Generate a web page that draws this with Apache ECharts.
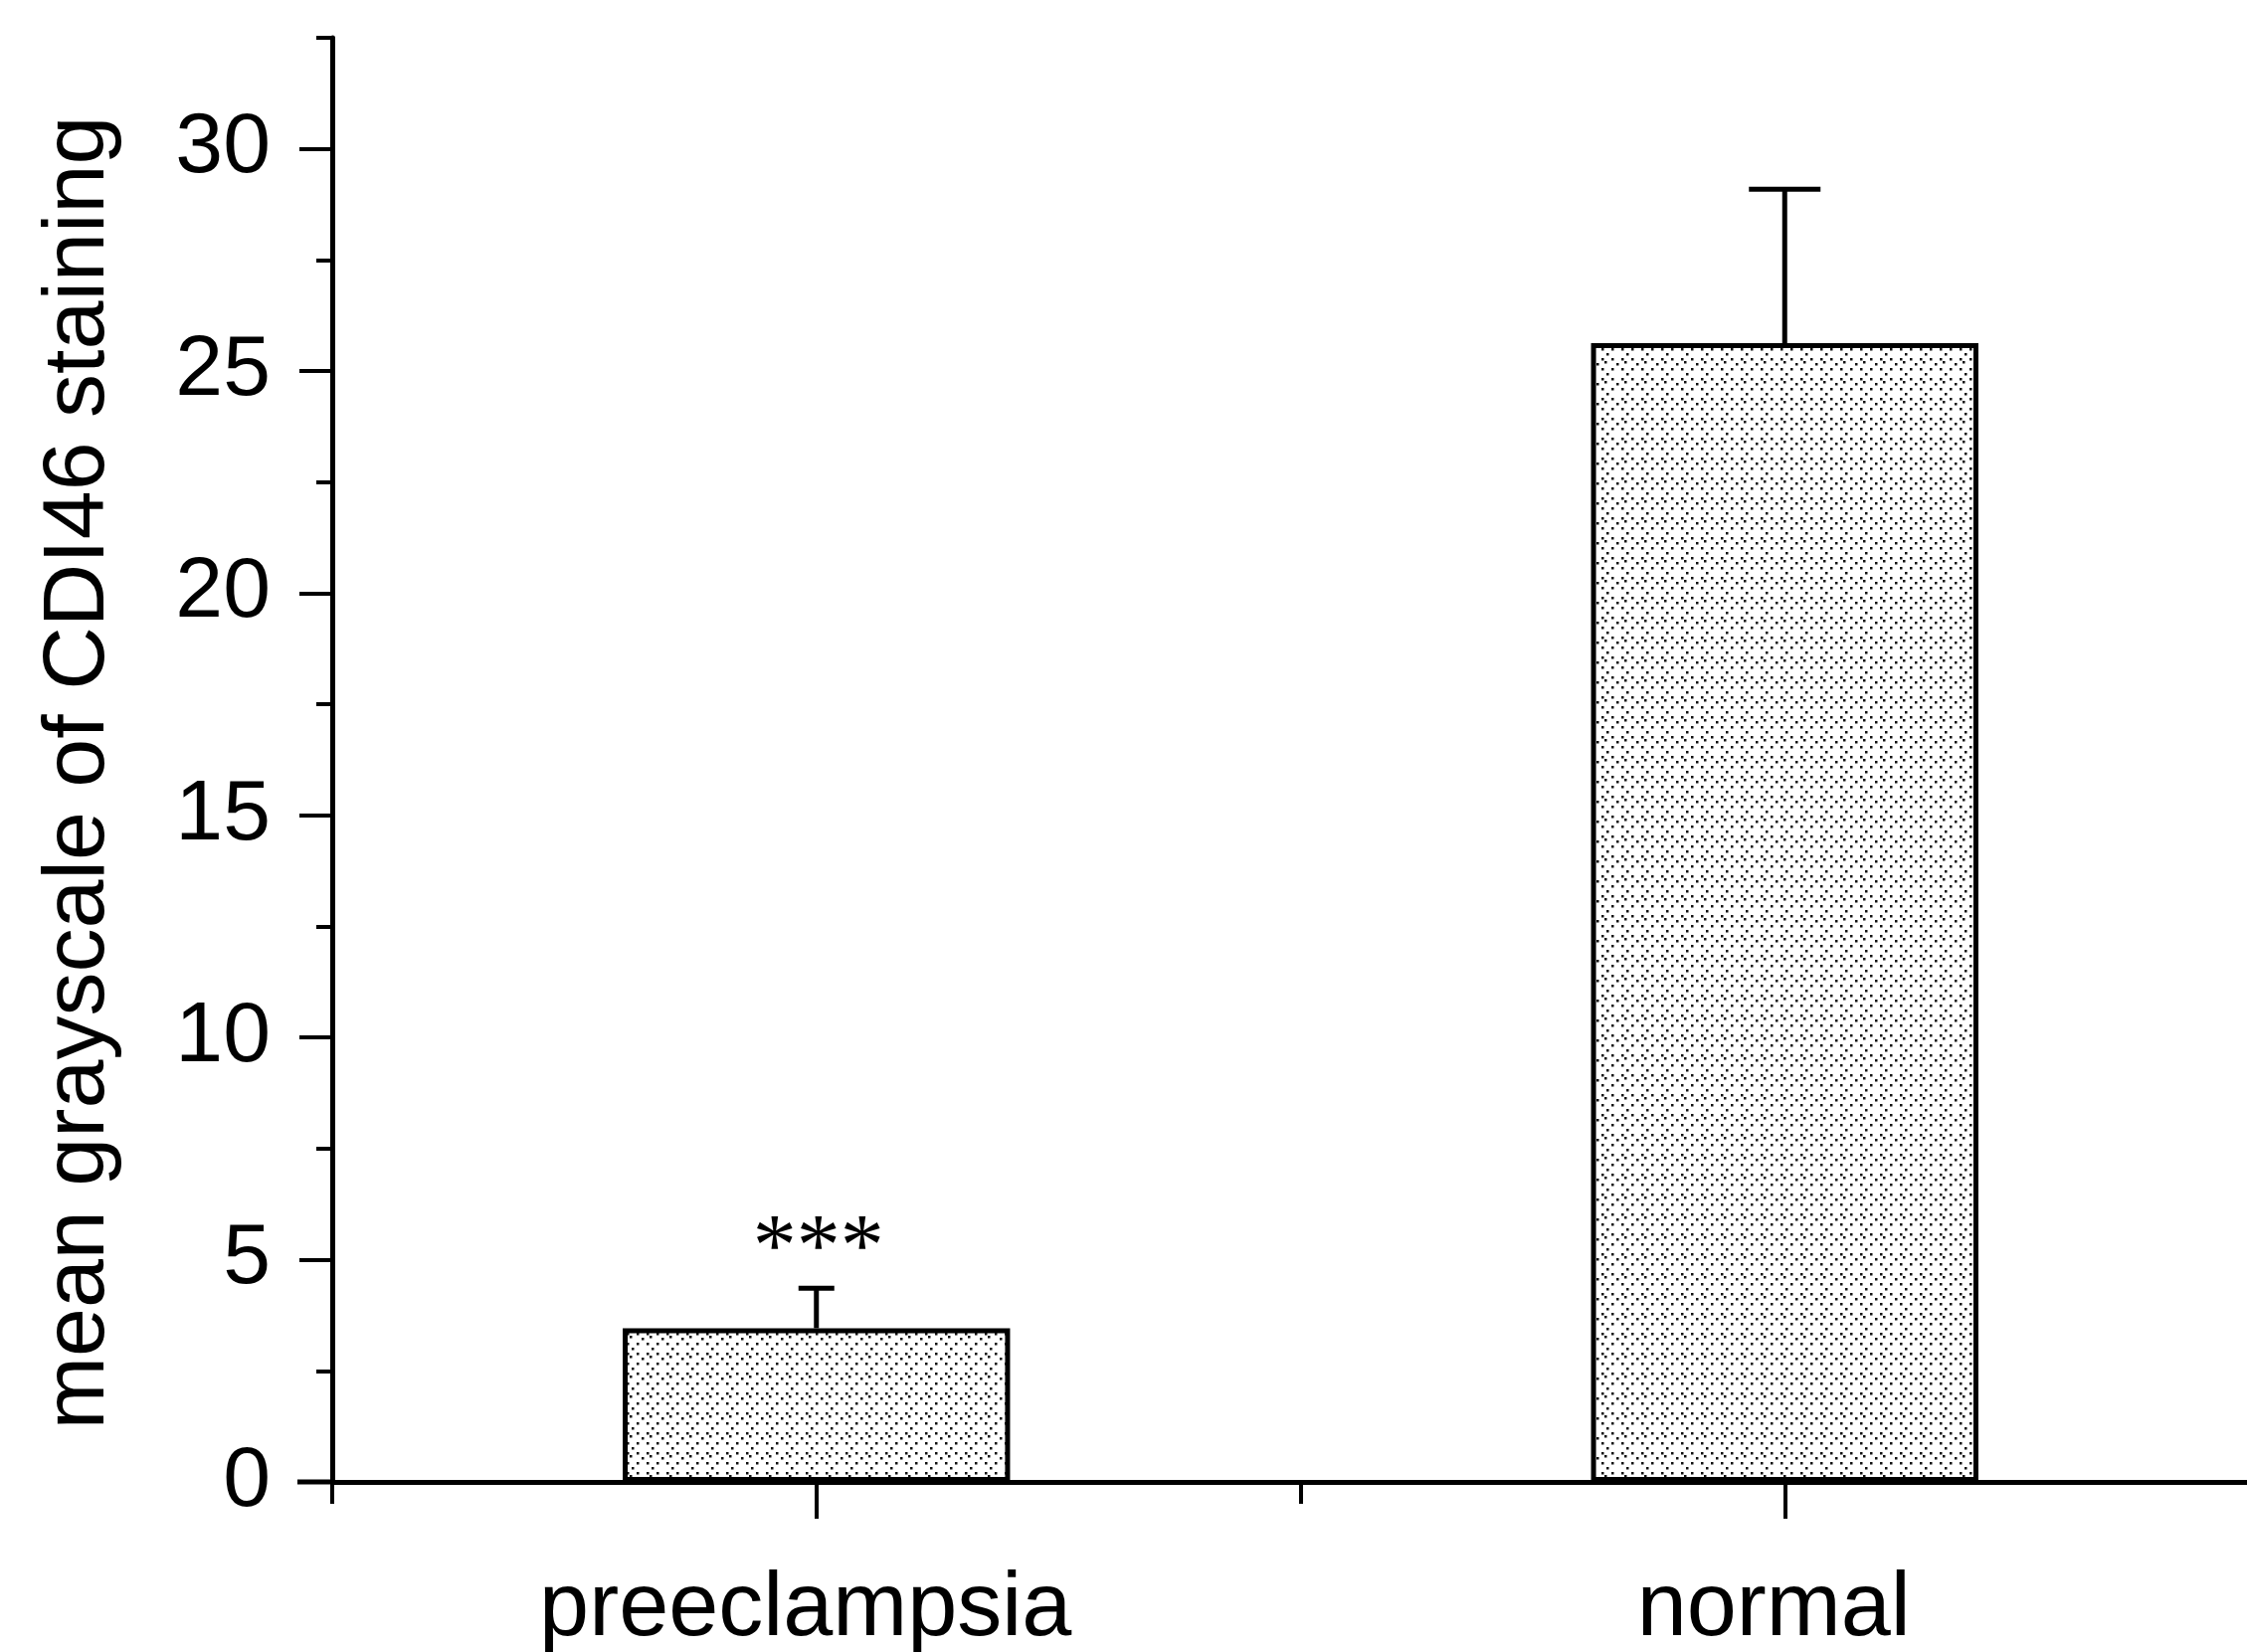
<!DOCTYPE html>
<html>
<head>
    <meta charset="utf-8">
    <title>CDI46 staining</title>
    <script src="https://cdn.jsdelivr.net/npm/echarts@6/dist/echarts.min.js"></script>
</head>
<body style="margin:0;background:#fff;">
<div id="main" style="width: 2259px;height:1661px;"></div>
<script type="text/javascript">
    // values
    var categories = ['preeclampsia', 'normal'];
    var means = [3.46, 25.63];
    var upperErr = [4.36, 29.09];
    var marks = ['***', ''];
    var yTickValues = [0, 5, 10, 15, 20, 25, 30];

    var font = 'Liberation Sans';
    var capHalf = [18, 36];

    // stippled fill like the printed figure
    function makeStipple() {
        var c = document.createElement('canvas');
        c.width = 20;
        c.height = 20;
        var ctx = c.getContext('2d');
        ctx.fillStyle = '#ffffff';
        ctx.fillRect(0, 0, 20, 20);
        ctx.fillStyle = '#111111';
        var dots = [[0, 0], [10, 0], [0, 10], [10, 10], [5, 5], [15, 15], [13, 3]];
        for (var i = 0; i < dots.length; i++) {
            ctx.fillRect(dots[i][0], dots[i][1], 2.5, 2.5);
        }
        return c;
    }

    var errData = [];
    for (var i = 0; i < categories.length; i++) {
        errData.push([i, means[i], upperErr[i]]);
    }

    var myChart = echarts.init(document.getElementById('main'));
    var option = {
        animation: false,
        backgroundColor: '#ffffff',
        // the plot runs past the right edge of the picture, as in the original
        grid: {left: 334, top: 38, width: 1947, bottom: 171, outerBoundsMode: 'none', containLabel: false},
        xAxis: [{
            type: 'category',
            data: categories,
            boundaryGap: true,
            axisLine: {show: true, lineStyle: {color: '#000', width: 5}},
            axisTick: {show: true, length: 22, lineStyle: {color: '#000', width: 4}},
            axisLabel: {color: '#000', fontSize: 90, fontFamily: font, margin: 84, padding: [0, 22, 0, 0]}
        }, {
            type: 'category',
            data: categories,
            position: 'bottom',
            boundaryGap: true,
            axisLine: {show: false},
            axisTick: {show: true, alignWithLabel: true, length: 37, lineStyle: {color: '#000', width: 4}},
            axisLabel: {show: false}
        }],
        yAxis: [{
            type: 'value',
            min: 0,
            max: 32.5,
            interval: 5,
            name: 'mean grayscale of CDI46 staining',
            nameLocation: 'middle',
            nameGap: 210,
            nameTextStyle: {color: '#000', fontSize: 88, fontFamily: font, padding: [0, 26, 0, 0]},
            splitLine: {show: false},
            axisLine: {show: true, lineStyle: {color: '#000', width: 5}},
            axisTick: {show: true, length: 33, customValues: yTickValues, lineStyle: {color: '#000', width: 4}},
            axisLabel: {color: '#000', fontSize: 86, fontFamily: font, margin: 62, customValues: yTickValues}
        }, {
            type: 'value',
            min: 0,
            max: 32.5,
            interval: 2.5,
            position: 'left',
            splitLine: {show: false},
            axisLine: {show: false},
            axisTick: {show: true, length: 16, lineStyle: {color: '#000', width: 4}},
            axisLabel: {show: false}
        }],
        series: [{
            type: 'bar',
            data: means,
            barWidth: '40%',
            itemStyle: {
                color: {image: makeStipple(), repeat: 'repeat'},
                borderColor: '#000',
                borderWidth: 5
            },
            z: 2
        }, {
            type: 'custom',
            data: errData,
            z: 3,
            renderItem: function (params, api) {
                var idx = params.dataIndex;
                var base = api.coord([api.value(0), api.value(1)]);
                var top = api.coord([api.value(0), api.value(2)]);
                var hw = capHalf[idx];
                var style = {stroke: '#000', lineWidth: 5};
                var children = [
                    {type: 'line', shape: {x1: base[0], y1: base[1], x2: top[0], y2: top[1]}, style: style},
                    {type: 'line', shape: {x1: top[0] - hw, y1: top[1], x2: top[0] + hw, y2: top[1]}, style: style}
                ];
                if (marks[idx]) {
                    children.push({
                        type: 'text',
                        style: {
                            text: marks[idx], x: top[0] + 2, y: top[1] - 37,
                            align: 'center', verticalAlign: 'middle',
                            font: '88px "Liberation Serif"', fill: '#000'
                        }
                    });
                }
                return {type: 'group', children: children};
            }
        }],
        graphic: [{
            type: 'line',
            shape: {x1: 299, y1: 1490, x2: 336, y2: 1490},
            style: {stroke: '#000', lineWidth: 5}
        }]
    };
    myChart.setOption(option);
</script>
</body>
</html>
